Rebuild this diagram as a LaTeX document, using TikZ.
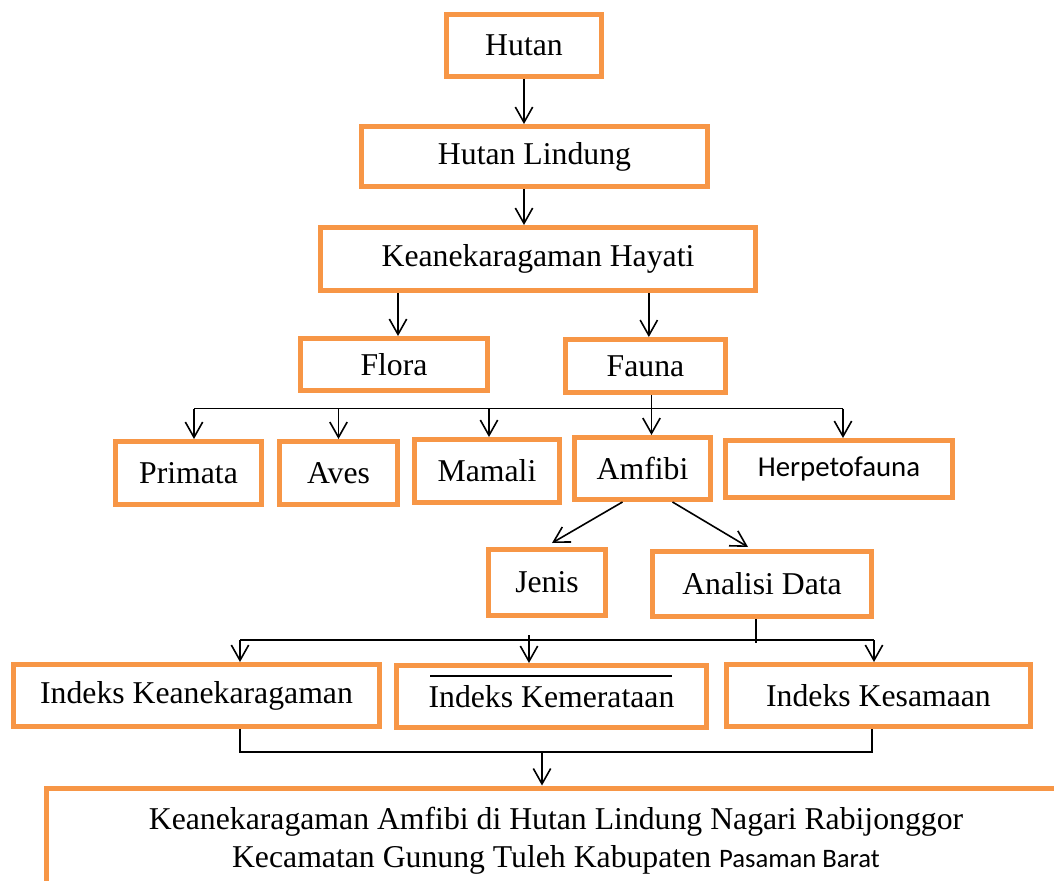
\documentclass[tikz,border=0pt]{standalone}
\usepackage{fontspec}
\setmainfont{Liberation Serif}
\newfontfamily\calibri{Carlito}
\usetikzlibrary{arrows.meta}
\definecolor{oranye}{RGB}{247,150,70}
\tikzset{
    kotak/.style={draw=oranye, line width=3.75pt, fill=white, inner sep=0pt,
        font=\fontsize{23.8}{28.5}\selectfont},
    ukuran/.style 2 args={minimum width=#1*0.75pt, minimum height=#2*0.75pt},
    garis/.style={line width=1.2pt}
}
\begin{document}
\begin{tikzpicture}[x=0.75pt,y=-0.75pt,>={Straight Barb[length=11.5pt,width=13pt]}]
        \useasboundingbox (0,0) rectangle (1054,881);
        \clip (0,0) rectangle (1054,881);
        %% atas
        \node[kotak,ukuran={155}{62}] (hutan) at (524,45.5) {Hutan};
        \node[kotak,ukuran={346}{60}] (lindung) at (534.5,156.5) {Hutan Lindung};
        \node[kotak,ukuran={435}{63}] (hayati) at (538,259) {Keanekaragaman Hayati};
        \node[kotak,ukuran={187}{52}] (flora) at (394,364.5) {Flora};
        \node[kotak,ukuran={160}{53}] (fauna) at (645.5,366) {Fauna};
        %% fauna
        \node[kotak,ukuran={146}{63}] (primata) at (188.5,473) {Primata};
        \node[kotak,ukuran={118}{63}] (aves) at (338.5,473) {Aves};
        \node[kotak,ukuran={145}{63}] (mamali) at (487,471) {Mamali};
        \node[kotak,ukuran={136}{62}] (amfibi) at (642.5,468.5) {Amfibi};
        \node[kotak,ukuran={227}{57},font=\calibri\fontsize{21.6}{26}\selectfont] (herpeto) at (839,469) {\raisebox{-2.5pt}{Herpetofauna}};
        %% amfibi
        \node[kotak,ukuran={117}{66}] (jenis) at (547,582.5) {Jenis};
        \node[kotak,ukuran={219}{65}] (analisi) at (762,584) {Analisi Data\hspace{9pt}};
        %% indeks
        \node[kotak,ukuran={366}{62}] (ik) at (196.5,695.5) {\raisebox{-2pt}{Indeks Keanekaragaman}};
        \node[kotak,ukuran={310}{62}] (kem) at (551.5,696.5) {Indeks Kemerataan};
        \node[kotak,ukuran={304}{62}] (kes) at (878.5,695.5) {Indeks Kesamaan};
        \draw[line width=0.8pt] (430,676) -- (672,676);
        %% hasil
        \node[kotak,ukuran={1020}{106},align=center] (hasil) at (556,841)
            {Keanekaragaman Amfibi di Hutan Lindung Nagari Rabijonggor\\
             Kecamatan Gunung Tuleh Kabupaten {\calibri\fontsize{20}{24}\selectfont Pasaman Barat}};
        %% panah atas
        \draw[garis,->] (hutan.south) -- (hutan.south |- lindung.north);
        \draw[garis,->] (lindung.south -| hutan.south) -- (hutan.south |- hayati.north);
        \draw[garis,->] ([xshift=3pt]flora.north |- hayati.south) -- ([xshift=3pt]flora.north);
        \draw[garis,->] ([xshift=2.5pt]fauna.north |- hayati.south) -- ([xshift=2.5pt]fauna.north);
        %% cabang fauna
        \coordinate (c1) at (194,408.5);
        \coordinate (c2) at (843,408.5);
        \draw[garis] (c1) -- (c2);
        \draw[garis,->] (c1) -- (c1 |- primata.north);
        \draw[garis,->] (aves.north |- c1) -- (aves.north);
        \draw[garis,->] ([xshift=1.5pt]mamali.north |- c1) -- ([xshift=1.5pt]mamali.north);
        \draw[garis,->] ([xshift=4.5pt]fauna.south) -- ([xshift=4.5pt]fauna.south |- amfibi.north);
        \draw[garis,->] (c2) -- (c2 |- herpeto.north);
        %% cabang amfibi
        \draw[garis,->] ([xshift=-15pt]amfibi.south) -- ([xshift=3.75pt,yshift=3pt]jenis.north);
        \draw[garis,->] ([xshift=22.5pt]amfibi.south) -- ([xshift=-10.5pt,yshift=1.5pt]analisi.north);
        %% cabang indeks
        \coordinate (d1) at (240,640);
        \coordinate (d2) at (874,640);
        \coordinate (d3) at (529,635);
        \draw[garis] ([xshift=-4.5pt]analisi.south) -- ++(0,24);
        \draw[garis] (d1) -- (d2);
        \draw[garis,->] (d1) -- (d1 |- ik.north);
        \draw[garis,->] (d3) -- (d3 |- kem.north);
        \draw[garis,->] (d2) -- (d2 |- kes.north);
        %% ke hasil
        \coordinate (e1) at (240,752);
        \coordinate (e2) at (872,752);
        \coordinate (e3) at (542,752);
        \draw[garis] (e1 |- ik.south) -- (e1) -- (e2) -- (e2 |- kes.south);
        \draw[garis,->] (e3) -- (e3 |- hasil.north);
    \end{tikzpicture}
\end{document}
